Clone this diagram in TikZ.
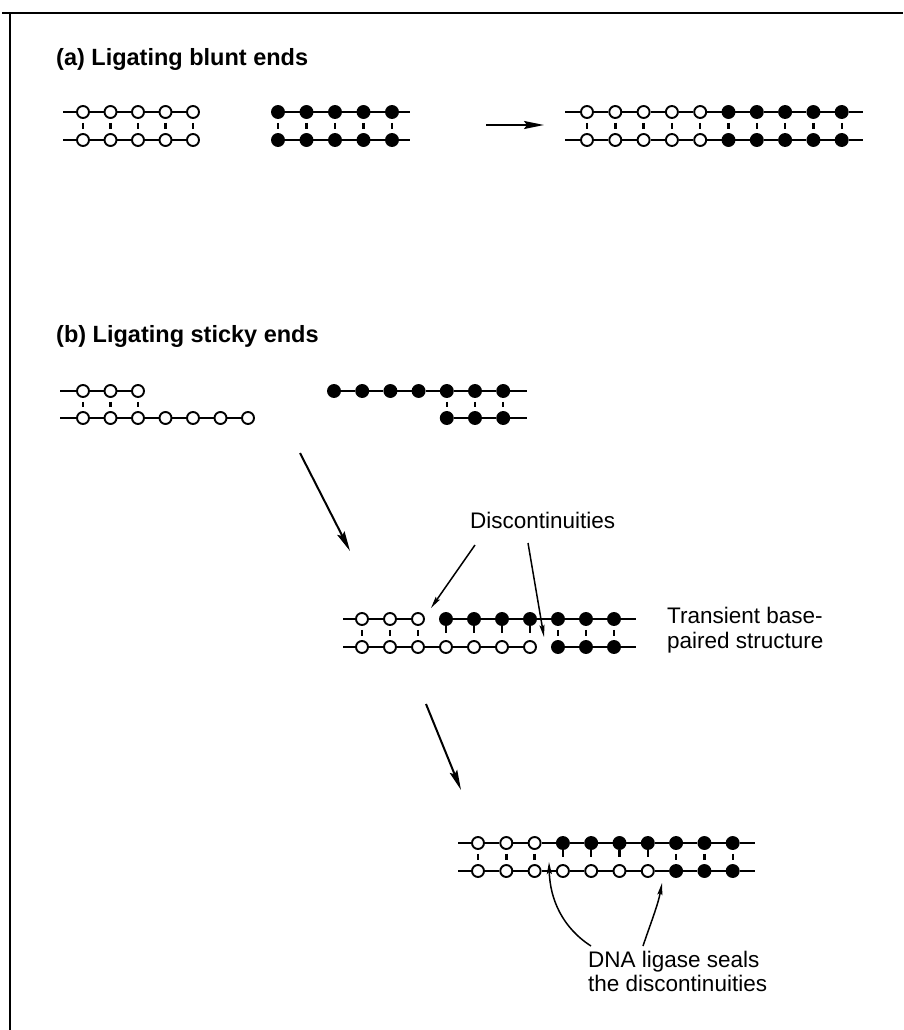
\documentclass[tikz,border=0pt]{standalone}
\usepackage{fontspec}
\setmainfont{Liberation Sans}
\usetikzlibrary{arrows.meta}
\begin{document}
\begin{tikzpicture}[x=1pt,y=-1pt,
  ob/.style={circle,draw,line width=1.9pt,fill=white,minimum size=12pt,inner sep=0pt},
  bb/.style={circle,draw,line width=1.9pt,fill=black,minimum size=12pt,inner sep=0pt},
  strand/.style={line width=2pt},
  rung/.style={line width=2.4pt,shorten <=4pt,shorten >=4pt},
  stem/.style={line width=2.4pt,shorten <=0pt,shorten >=7pt},
  bigarrow/.style={line width=2pt,-{Stealth[length=20pt,width=8pt,inset=3pt]}},
  smallarrow/.style={line width=1.5pt,-{Stealth[length=12pt,width=5pt,inset=2pt]}},
  titletext/.style={font=\fontsize{23.5}{28}\selectfont\bfseries,inner sep=0pt,anchor=base west},
  labeltext/.style={font=\fontsize{22.5}{26}\selectfont,inner sep=0pt,anchor=base west}]
\useasboundingbox (0,0) rectangle (903,1030);
% frame
\coordinate (fA) at (2,13); \coordinate (fB) at (903,13);
\coordinate (fC) at (10,13); \coordinate (fD) at (10,1030);
\draw[line width=1.6pt] (fA) -- (fB);
\draw[line width=1.6pt] (fC) -- (fD);

% ---------------- (a) ----------------
\node[titletext] (ta) at (56,66) {(a) Ligating blunt ends};

% left open duplex
\foreach \i in {0,...,4}{
  \node[ob] (aLt\i) at (83+27.5*\i,112) {};
  \node[ob] (aLb\i) at (83+27.5*\i,140) {};
  \draw[rung] (aLt\i) -- (aLb\i);
}
\coordinate (aLts) at (63,112); \coordinate (aLbs) at (63,140);
\draw[strand] (aLts) -- (aLt0); \draw[strand] (aLbs) -- (aLb0);
\foreach \i in {0,...,3}{\pgfmathtruncatemacro\j{\i+1}
  \draw[strand] (aLt\i) -- (aLt\j); \draw[strand] (aLb\i) -- (aLb\j);}

% right black duplex
\foreach \i in {0,...,4}{
  \node[bb] (aRt\i) at (278+28.5*\i,112) {};
  \node[bb] (aRb\i) at (278+28.5*\i,140) {};
  \draw[rung] (aRt\i) -- (aRb\i);
}
\coordinate (aRte) at (410,112); \coordinate (aRbe) at (410,140);
\draw[strand] (aRt4) -- (aRte); \draw[strand] (aRb4) -- (aRbe);
\foreach \i in {0,...,3}{\pgfmathtruncatemacro\j{\i+1}
  \draw[strand] (aRt\i) -- (aRt\j); \draw[strand] (aRb\i) -- (aRb\j);}

% arrow
\coordinate (aA1) at (486,125); \coordinate (aA2) at (544,125);
\draw[bigarrow] (aA1) -- (aA2);

% joined duplex
\foreach \i in {0,...,9}{
  \ifnum\i<5 \node[ob] (aJt\i) at (587+28.3*\i,112) {}; \node[ob] (aJb\i) at (587+28.3*\i,140) {};
  \else \node[bb] (aJt\i) at (587+28.3*\i,112) {}; \node[bb] (aJb\i) at (587+28.3*\i,140) {}; \fi
  \draw[rung] (aJt\i) -- (aJb\i);
}
\coordinate (aJts) at (565,112); \coordinate (aJbs) at (565,140);
\coordinate (aJte) at (863,112); \coordinate (aJbe) at (863,140);
\draw[strand] (aJts) -- (aJt0); \draw[strand] (aJbs) -- (aJb0);
\draw[strand] (aJt9) -- (aJte); \draw[strand] (aJb9) -- (aJbe);
\foreach \i in {0,...,8}{\pgfmathtruncatemacro\j{\i+1}
  \draw[strand] (aJt\i) -- (aJt\j); \draw[strand] (aJb\i) -- (aJb\j);}

% ---------------- (b) ----------------
\node[titletext] (tb) at (56,342) {(b) Ligating sticky ends};

% left open fragment
\foreach \i in {0,...,2}{
  \node[ob] (bLt\i) at (83+27.5*\i,391) {};
}
\foreach \i in {0,...,6}{
  \node[ob] (bLb\i) at (83+27.5*\i,418) {};
}
\foreach \i in {0,...,2}{\draw[rung] (bLt\i) -- (bLb\i);}
\coordinate (bLts) at (60,391); \coordinate (bLbs) at (60,418);
\draw[strand] (bLts) -- (bLt0); \draw[strand] (bLbs) -- (bLb0);
\foreach \i in {0,...,1}{\pgfmathtruncatemacro\j{\i+1}\draw[strand] (bLt\i) -- (bLt\j);}
\foreach \i in {0,...,5}{\pgfmathtruncatemacro\j{\i+1}\draw[strand] (bLb\i) -- (bLb\j);}

% right black fragment
\foreach \i in {0,...,6}{
  \node[bb] (bRt\i) at (334+28.2*\i,391) {};
}
\foreach \i in {4,...,6}{
  \node[bb] (bRb\i) at (334+28.2*\i,418) {};
  \draw[rung] (bRt\i) -- (bRb\i);
}
\coordinate (bRte) at (527,391); \coordinate (bRbe) at (527,418);
\draw[strand] (bRt6) -- (bRte); \draw[strand] (bRb6) -- (bRbe);
\foreach \i in {0,...,5}{\pgfmathtruncatemacro\j{\i+1}\draw[strand] (bRt\i) -- (bRt\j);}
\draw[strand] (bRb4) -- (bRb5); \draw[strand] (bRb5) -- (bRb6);

% arrow 1
\coordinate (bA1) at (300,453); \coordinate (bA2) at (350,551);
\draw[bigarrow] (bA1) -- (bA2);

% transient structure
\foreach \i in {0,...,9}{
  \ifnum\i<3 \node[ob] (mt\i) at (362+28*\i,619) {};
  \else \node[bb] (mt\i) at (362+28*\i,619) {}; \fi
  \ifnum\i<7 \node[ob] (mb\i) at (362+28*\i,647) {};
  \else \node[bb] (mb\i) at (362+28*\i,647) {}; \fi
}
\foreach \i in {0,1,2,7,8,9}{\draw[rung] (mt\i) -- (mb\i);}
\foreach \i in {3,...,6}{\draw[stem] (mt\i) -- (mb\i);}
\coordinate (mts) at (343,619); \coordinate (mbs) at (343,647);
\coordinate (mte) at (636,619); \coordinate (mbe) at (636,647);
\draw[strand] (mts) -- (mt0); \draw[strand] (mbs) -- (mb0);
\draw[strand] (mt9) -- (mte); \draw[strand] (mb9) -- (mbe);
\draw[strand] (mt0) -- (mt1); \draw[strand] (mt1) -- (mt2);
\foreach \i in {3,...,8}{\pgfmathtruncatemacro\j{\i+1}\draw[strand] (mt\i) -- (mt\j);}
\foreach \i in {0,...,5}{\pgfmathtruncatemacro\j{\i+1}\draw[strand] (mb\i) -- (mb\j);}
\draw[strand] (mb7) -- (mb8); \draw[strand] (mb8) -- (mb9);

% labels
\node[labeltext] (disc) at (470,528) {Discontinuities};
\coordinate (dA1) at (475,545); \coordinate (dA2) at (431,608);
\coordinate (dB1) at (528,543); \coordinate (dB2) at (544,637);
\draw[smallarrow] (dA1) -- (dA2);
\draw[smallarrow] (dB1) -- (dB2);

\node[labeltext] (tr1) at (667,623) {Transient base-};
\node[labeltext] (tr2) at (667,648) {paired structure};

% arrow 2
\coordinate (bB1) at (426,704); \coordinate (bB2) at (461,790);
\draw[bigarrow] (bB1) -- (bB2);

% sealed structure
\foreach \i in {0,...,9}{
  \ifnum\i<3 \node[ob] (st\i) at (478+28.3*\i,843) {};
  \else \node[bb] (st\i) at (478+28.3*\i,843) {}; \fi
  \ifnum\i<7 \node[ob] (sb\i) at (478+28.3*\i,871) {};
  \else \node[bb] (sb\i) at (478+28.3*\i,871) {}; \fi
}
\foreach \i in {0,1,2,7,8,9}{\draw[rung] (st\i) -- (sb\i);}
\foreach \i in {3,...,6}{\draw[stem] (st\i) -- (sb\i);}
\coordinate (sts) at (458,843); \coordinate (sbs) at (458,871);
\coordinate (ste) at (755,843); \coordinate (sbe) at (755,871);
\draw[strand] (sts) -- (st0); \draw[strand] (sbs) -- (sb0);
\draw[strand] (st9) -- (ste); \draw[strand] (sb9) -- (sbe);
\foreach \i in {0,...,8}{\pgfmathtruncatemacro\j{\i+1}
  \draw[strand] (st\i) -- (st\j); \draw[strand] (sb\i) -- (sb\j);}

\node[labeltext] (lig1) at (588,967) {DNA ligase seals};
\node[labeltext] (lig2) at (588,991) {the discontinuities};
\coordinate (cL1) at (591,946); \coordinate (cL2) at (549,862);
\coordinate (cR1) at (643,946); \coordinate (cR2) at (662,883);
\draw[smallarrow] (cL1) .. controls (563,928) and (550,900) .. (cL2);
\draw[smallarrow] (cR1) .. controls (650,925) and (658,905) .. (cR2);
\end{tikzpicture}
\end{document}
